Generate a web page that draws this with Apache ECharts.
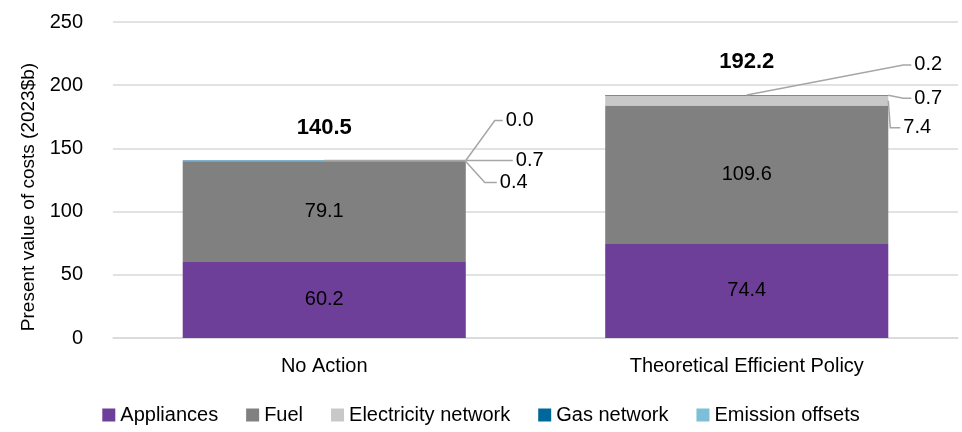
<!DOCTYPE html>
<html><head><meta charset="utf-8">
<script src="https://cdn.jsdelivr.net/npm/echarts@6/dist/echarts.min.js"></script>
<style>html,body{margin:0;padding:0;background:#fff}#c{width:962px;height:432px}</style>
</head><body><div id="c"></div>
<script>
const categories = ['No Action', 'Theoretical Efficient Policy'];
const appliances = [60.2, 74.4];
const fuel = [79.1, 109.6];
const electricityNetwork = [0.4, 7.4];
const gasNetwork = [0.7, 0.7];
const emissionOffsets = [0.0, 0.2];
const totals = [140.5, 192.2];
const yTicks = [0, 50, 100, 150, 200, 250];

const FONT = "'Liberation Sans Narrow', 'Arial Narrow', 'Liberation Sans', Arial, sans-serif";
const BAR_RATIO = 0.67;
const colors = {
  'Appliances': '#6E3F98',
  'Fuel': '#808080',
  'Electricity network': '#C8C8C8',
  'Gas network': '#00679A',
  'Emission offsets': '#7DBFD9'
};
// leader-line layout: anchor fx (0 = bar centre, 0.5 = right edge), elbow x relative to bar right edge (ex),
// elbow y offset from anchor (dy), horizontal run after elbow
const leaderLayout = [
  [ // No Action
    {src: 'em', level: 'top', fx: 0.5, ex: 29, dy: -40, run: 8},
    {src: 'gas', level: 'top', fx: 0, ex: 47, dy: 0, run: 0},
    {src: 'elec', level: 'top', fx: 0.5, ex: 19, dy: 21, run: 12}
  ],
  [ // Theoretical Efficient Policy
    {src: 'em', level: 'top', fx: 0, ex: 15, dy: -30, run: 8},
    {src: 'gas', level: 'top', fx: 0.5, ex: 15, dy: 3, run: 8},
    {src: 'elec', level: 'mid', fx: 0.5, ex: 2, dy: 27, run: 10}
  ]
];

function mainSeries(name, data, showLabel) {
  return {
    name, type: 'bar', stack: 'total', data, barWidth: (BAR_RATIO * 100) + '%',
    itemStyle: {color: colors[name]},
    label: {show: showLabel, position: 'inside', color: '#000', fontFamily: FONT, fontSize: 20,
      formatter: p => p.value.toFixed(1)}
  };
}

function renderLeaders(params, api) {
  const i = api.value(0);
  const base = appliances[i] + fuel[i];
  const seg = {
    elec: [base, base + electricityNetwork[i], electricityNetwork[i]],
    gas: [base + electricityNetwork[i], base + electricityNetwork[i] + gasNetwork[i], gasNetwork[i]],
    em: [base + electricityNetwork[i] + gasNetwork[i], base + electricityNetwork[i] + gasNetwork[i] + emissionOffsets[i], emissionOffsets[i]]
  };
  const cx = api.coord([i, 0])[0];
  const barW = api.size([1, 0])[0] * BAR_RATIO;
  const right = cx + barW / 2;
  const children = [];
  leaderLayout[i].forEach(L => {
    const s = seg[L.src];
    const v = L.level === 'mid' ? (s[0] + s[1]) / 2 : s[1];
    const ax = cx + L.fx * barW;
    const ay = api.coord([i, v])[1];
    const exx = right + L.ex, ey = ay + L.dy;
    children.push({
      type: 'polyline',
      shape: {points: [[ax, ay], [exx, ey], [exx + L.run, ey]]},
      style: {stroke: '#A6A6A6', lineWidth: 1.5, fill: null}
    });
    children.push({
      type: 'text',
      x: exx + L.run + 3, y: ey,
      style: {text: s[2].toFixed(1), fill: '#000', font: '20px ' + FONT, align: 'left', verticalAlign: 'middle'}
    });
  });
  return {type: 'group', children};
}

const chart = echarts.init(document.getElementById('c'));
chart.setOption({
  animation: false,
  textStyle: {fontFamily: FONT},
  grid: {left: 113, right: 4, top: 22, bottom: 94},
  legend: {
    bottom: 2, left: 'center', icon: 'rect', itemWidth: 13, itemHeight: 13, itemGap: 28,
    textStyle: {fontFamily: FONT, fontSize: 20, color: '#000'},
    data: ['Appliances', 'Fuel', 'Electricity network', 'Gas network', 'Emission offsets']
  },
  xAxis: {
    type: 'category', data: categories,
    axisLine: {lineStyle: {color: '#D9D9D9', width: 1.5}},
    axisTick: {show: false},
    axisLabel: {color: '#000', fontSize: 20, fontFamily: FONT, margin: 18}
  },
  yAxis: {
    type: 'value', min: yTicks[0], max: yTicks[yTicks.length - 1], interval: 50,
    name: 'Present value of costs (2023$b)', nameLocation: 'middle', nameGap: 66,
    nameTextStyle: {color: '#000', fontSize: 19, fontFamily: FONT, padding: [0, 34, 0, 0]},
    axisLabel: {color: '#000', fontSize: 20, fontFamily: FONT, margin: 30},
    splitLine: {lineStyle: {color: '#D9D9D9', width: 1.5}},
    axisLine: {show: false}, axisTick: {show: false}
  },
  series: [
    mainSeries('Appliances', appliances, true),
    mainSeries('Fuel', fuel, true),
    mainSeries('Electricity network', electricityNetwork, false),
    mainSeries('Gas network', gasNetwork, false),
    mainSeries('Emission offsets', emissionOffsets, false),
    {
      name: 'Total', type: 'bar', stack: 'total', data: totals.map(() => 0), barWidth: (BAR_RATIO * 100) + '%',
      itemStyle: {color: 'transparent'},
      label: {show: true, position: 'top', distance: 22, color: '#000', fontWeight: 'bold',
        fontFamily: FONT, fontSize: 22, formatter: p => totals[p.dataIndex].toFixed(1)}
    },
    {
      name: 'Leaders', type: 'custom', data: categories.map((c, i) => [i]),
      encode: {x: 0}, renderItem: renderLeaders, z: 5, silent: true
    }
  ]
});
</script></body></html>
